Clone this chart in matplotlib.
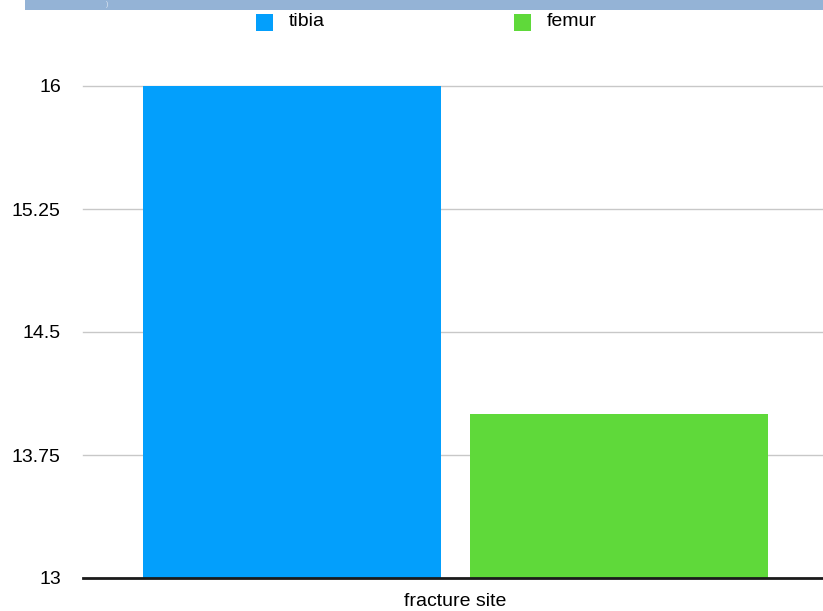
import matplotlib.pyplot as plt
from matplotlib.patches import Rectangle

# chart values
categories = ["fracture site"]
series_names = ["tibia", "femur"]
series_values = [16.0, 14.0]
series_colors = ["#039ffc", "#5fd93a"]
y_ticks = [13, 13.75, 14.5, 15.25, 16]
y_tick_labels = ["13", "13.75", "14.5", "15.25", "16"]

plt.rcParams['font.family'] = ['Liberation Sans', 'DejaVu Sans']

fig = plt.figure(figsize=(8.23, 6.11), dpi=100)
W, H = 823, 611

# light blue band across the top (cut-off title bar)
fig.patches.append(Rectangle((25 / W, 1 - 10 / H), 1, 10 / H, transform=fig.transFigure,
                             facecolor="#94b3d6", edgecolor="none", zorder=0))
fig.text(107 / W, 1 - 5 / H, ")", fontsize=5, color="#dfe7f2", ha="center", va="center")

ax = fig.add_axes([83 / W, 1 - 578 / H, 1 - 83 / W, (578 - 86) / H])

positions = [0, 1]
width = 0.911
for pos, name, val, col in zip(positions, series_names, series_values, series_colors):
    ax.bar(pos, val - 13, bottom=13, width=width, color=col, label=name, zorder=2)

ax.set_ylim(13, 16)
ax.set_xlim(-0.639, 1.624)
ax.set_yticks(y_ticks)
ax.set_yticklabels(y_tick_labels, fontsize=14)
ax.tick_params(axis='y', length=0, pad=16)
ax.set_xticks([])
for t in y_ticks[1:]:
    ax.axhline(t, color="#c8c8c8", linewidth=1, zorder=1, clip_on=False)
for s in ["top", "right", "left"]:
    ax.spines[s].set_visible(False)
ax.spines["bottom"].set_linewidth(2)
ax.spines["bottom"].set_color("#1a1a1a")
ax.spines["bottom"].set_zorder(3)

fig.text(455 / W, 1 - 601 / H, categories[0], fontsize=14, ha="center", va="center")

# legend
legend_x = [256, 514]
for x, name, col in zip(legend_x, series_names, series_colors):
    fig.patches.append(Rectangle((x / W, 1 - 31 / H), 17 / W, 17 / H, transform=fig.transFigure,
                                 facecolor=col, edgecolor="none"))
    fig.text((x + 33) / W, 1 - 22 / H, name, fontsize=14, ha="left", va="center")

fig.savefig("out.png", dpi=100)
